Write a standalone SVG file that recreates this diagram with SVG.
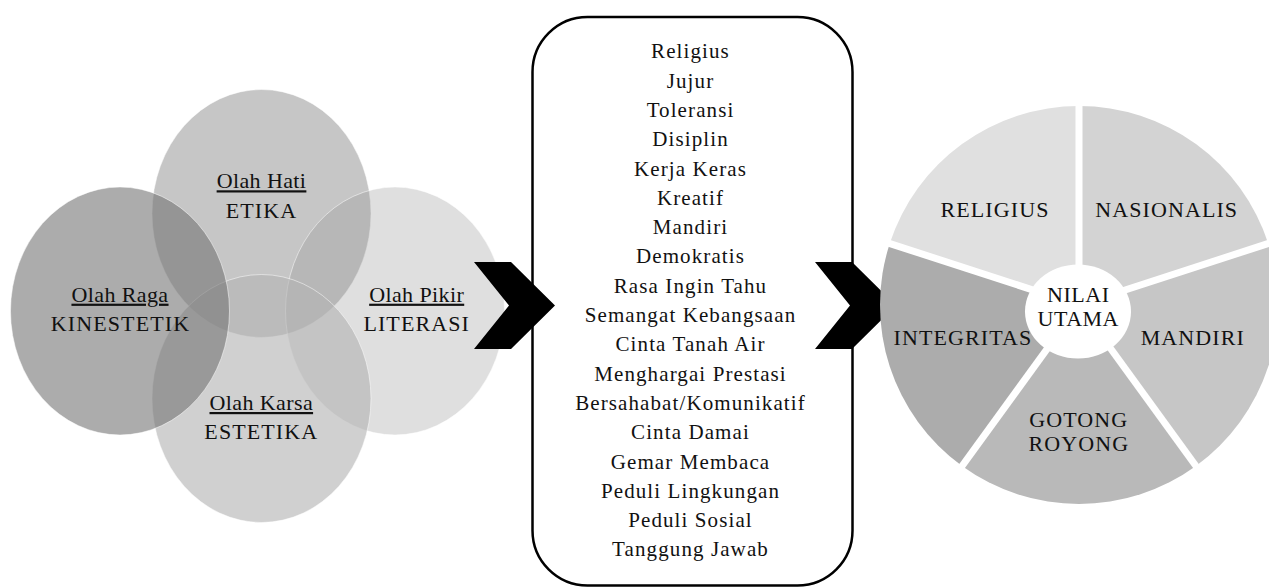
<svg xmlns="http://www.w3.org/2000/svg" width="1269" height="588" viewBox="0 0 1269 588">
<style>
.t{font-family:'Liberation Serif','Times New Roman',serif;fill:#111;text-anchor:middle}
.lbl{font-size:22px}
.ul{text-decoration:underline;letter-spacing:0.4px}
.cap{letter-spacing:1.1px}
.item{font-size:21px;letter-spacing:1.1px}
.venn{stroke:#ffffff;stroke-opacity:0.5;stroke-width:1}
.sep{stroke:#ffffff;stroke-width:7;fill:none}
.chev{fill:#000000}
</style>
<rect width="1269" height="588" fill="#ffffff"/>
<g id="olah-hati"><ellipse class="venn" cx="261.5" cy="213.5" rx="109.5" ry="124" fill="#c6c6c6"/></g>
<g id="olah-pikir"><ellipse class="venn" cx="395" cy="311" rx="109.5" ry="124" fill="#969696" fill-opacity="0.3"/></g>
<g id="olah-karsa"><ellipse class="venn" cx="261.5" cy="398.5" rx="109.5" ry="124" fill="#b5b5b5" fill-opacity="0.632"/></g>
<g id="olah-raga"><ellipse class="venn" cx="120" cy="311" rx="109.5" ry="124" fill="#757575" fill-opacity="0.6"/></g>
<g id="venn-labels">
<text class="t lbl ul" x="261.5" y="188.3">Olah Hati</text>
<text class="t lbl cap" x="261.5" y="217.7">ETIKA</text>
<text class="t lbl ul" x="120" y="301.7">Olah Raga</text>
<text class="t lbl cap" x="120.5" y="330.7">KINESTETIK</text>
<text class="t lbl ul" x="416.7" y="301.7">Olah Pikir</text>
<text class="t lbl cap" x="416.7" y="330.7">LITERASI</text>
<text class="t lbl ul" x="261.3" y="410">Olah Karsa</text>
<text class="t lbl cap" x="261.3" y="439">ESTETIKA</text>
</g>
<g id="nilai-box">
<rect x="532.5" y="17" width="320" height="568.5" rx="55" ry="55" fill="#ffffff" stroke="#000000" stroke-width="2.5"/>
<text class="t item" x="690.5" y="58.3">Religius</text>
<text class="t item" x="690.5" y="87.6">Jujur</text>
<text class="t item" x="690.5" y="116.9">Toleransi</text>
<text class="t item" x="690.5" y="146.2">Disiplin</text>
<text class="t item" x="690.5" y="175.5">Kerja Keras</text>
<text class="t item" x="690.5" y="204.8">Kreatif</text>
<text class="t item" x="690.5" y="234.1">Mandiri</text>
<text class="t item" x="690.5" y="263.4">Demokratis</text>
<text class="t item" x="690.5" y="292.7">Rasa Ingin Tahu</text>
<text class="t item" x="690.5" y="322">Semangat Kebangsaan</text>
<text class="t item" x="690.5" y="351.3">Cinta Tanah Air</text>
<text class="t item" x="690.5" y="380.6">Menghargai Prestasi</text>
<text class="t item" x="690.5" y="409.9">Bersahabat/Komunikatif</text>
<text class="t item" x="690.5" y="439.2">Cinta Damai</text>
<text class="t item" x="690.5" y="468.5">Gemar Membaca</text>
<text class="t item" x="690.5" y="497.8">Peduli Lingkungan</text>
<text class="t item" x="690.5" y="527.1">Peduli Sosial</text>
<text class="t item" x="690.5" y="556.4">Tanggung Jawab</text>
</g>
<g id="connectors">
<polygon class="chev" points="474,262 511,262 555,305.5 511,349 474,349 509,305.5"/>
<polygon class="chev" points="815,262 852,262 896,305.5 852,349 815,349 850,305.5"/>
</g>
<g id="nilai-utama-pie">
<path d="M1079,305 L1079,106 A199,199 0 0 1 1268.26,243.51 Z" fill="#d3d3d3"/>
<path d="M1079,305 L1268.26,243.51 A199,199 0 0 1 1195.97,465.99 Z" fill="#c6c6c6"/>
<path d="M1079,305 L1195.97,465.99 A199,199 0 0 1 962.03,465.99 Z" fill="#b9b9b9"/>
<path d="M1079,305 L962.03,465.99 A199,199 0 0 1 889.74,243.51 Z" fill="#acacac"/>
<path d="M1079,305 L889.74,243.51 A199,199 0 0 1 1079,106 Z" fill="#e0e0e0"/>
<line class="sep" x1="1079" y1="305" x2="1079" y2="90"/>
<line class="sep" x1="1079" y1="305" x2="1283.48" y2="238.56"/>
<line class="sep" x1="1079" y1="305" x2="1205.37" y2="478.94"/>
<line class="sep" x1="1079" y1="305" x2="952.63" y2="478.94"/>
<line class="sep" x1="1079" y1="305" x2="874.52" y2="238.56"/>
<ellipse cx="1078" cy="311.5" rx="53" ry="47" fill="#ffffff"/>
<text class="t lbl cap" x="995" y="217.3">RELIGIUS</text>
<text class="t lbl cap" x="1166.7" y="217.3">NASIONALIS</text>
<text class="t lbl cap" x="963" y="345">INTEGRITAS</text>
<text class="t lbl cap" x="1192.8" y="345">MANDIRI</text>
<text class="t lbl cap" x="1078.8" y="426.7">GOTONG</text>
<text class="t lbl cap" x="1078.8" y="450.7">ROYONG</text>
<text class="t lbl" x="1078.3" y="301.7" letter-spacing="0.5">NILAI</text>
<text class="t lbl" x="1078.3" y="325.5" letter-spacing="0.5">UTAMA</text>
</g>
</svg>
